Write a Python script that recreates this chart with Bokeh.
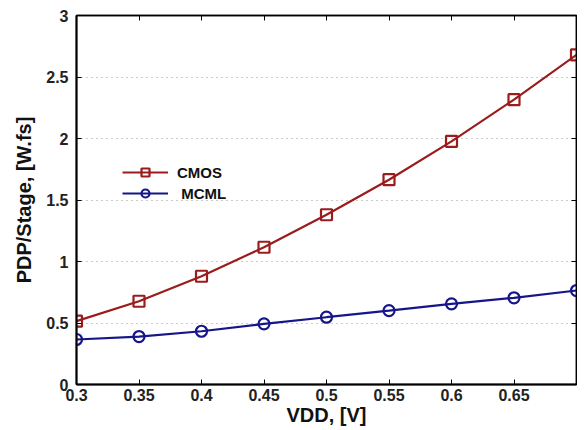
from bokeh.plotting import figure
from bokeh.models import FixedTicker, LinearAxis, Legend, LegendItem, Range1d
from bokeh.embed import file_html
from bokeh.resources import INLINE

vdd = [0.3, 0.35, 0.4, 0.45, 0.5, 0.55, 0.6, 0.65, 0.7]
cmos = [0.515, 0.677, 0.88, 1.116, 1.38, 1.665, 1.977, 2.316, 2.68]
mcml = [0.366, 0.39, 0.433, 0.493, 0.547, 0.60, 0.656, 0.705, 0.764]

x_ticks = [0.3, 0.35, 0.4, 0.45, 0.5, 0.55, 0.6, 0.65]
x_labels = ["0.3", "0.35", "0.4", "0.45", "0.5", "0.55", "0.6", "0.65"]
y_ticks = [0, 0.5, 1, 1.5, 2, 2.5, 3]
y_labels = ["0", "0.5", "1", "1.5", "2", "2.5", "3"]

red = "#9a1c1c"
blue = "#16168a"
FONT = "Liberation Sans"

p = figure(width=577, height=430, output_backend="svg", toolbar_location=None,
           x_range=Range1d(0.3, 0.7), y_range=Range1d(0, 3),
           min_border_left=76, min_border_right=1, min_border_top=15, min_border_bottom=46)
p.background_fill_color = "white"
p.outline_line_color = "black"
p.outline_line_width = 1.5

p.xgrid.visible = False
p.ygrid.grid_line_color = "#999999"
p.ygrid.grid_line_dash = "1 4"
p.ygrid.grid_line_width = 1

for ax, ticks, labels in ((p.xaxis[0], x_ticks, x_labels), (p.yaxis[0], y_ticks, y_labels)):
    ax.ticker = FixedTicker(ticks=ticks)
    ax.major_label_overrides = {t: l for t, l in zip(ticks, labels)}
    ax.minor_tick_line_color = None
    ax.major_tick_in = 5
    ax.major_tick_out = 0
    ax.axis_line_width = 2
    ax.major_tick_line_width = 1
    ax.major_label_text_font = FONT
    ax.major_label_text_font_style = "bold"
    ax.major_label_text_font_size = "16px"
    ax.major_label_text_color = "#222222"
    ax.axis_label_text_font = FONT
    ax.axis_label_text_font_style = "bold"
    ax.axis_label_text_font_size = "20px"
    ax.axis_label_text_color = "#111111"

p.xaxis.axis_label = "VDD, [V]"
p.yaxis.axis_label = "PDP/Stage, [W.fs]"
p.xaxis.major_label_standoff = 4
p.yaxis.major_label_standoff = 8
p.xaxis.axis_label_standoff = 0
p.yaxis.axis_label_standoff = 8

for loc, ticks in (("right", y_ticks), ("above", x_ticks)):
    ax = LinearAxis(ticker=FixedTicker(ticks=ticks))
    ax.major_label_overrides = {t: "" for t in ticks}
    ax.major_label_standoff = 0
    ax.minor_tick_line_color = None
    ax.major_tick_in = 5
    ax.major_tick_out = 0
    ax.axis_line_width = 1.5
    p.add_layout(ax, loc)

r1 = p.line(vdd, cmos, line_color=red, line_width=2.2)
s1 = p.scatter(vdd, cmos, marker="square", size=11, fill_color=None, line_color=red, line_width=2.2)
r2 = p.line(vdd, mcml, line_color=blue, line_width=2.2)
s2 = p.scatter(vdd, mcml, marker="circle", size=11, fill_color=None, line_color=blue, line_width=2.2)

legend = Legend(items=[LegendItem(label="CMOS", renderers=[r1, s1]),
                       LegendItem(label=" MCML", renderers=[r2, s2])],
                location=(46, 181))
legend.background_fill_alpha = 0
legend.border_line_color = None
legend.padding = 0
legend.margin = 0
legend.spacing = 1
legend.glyph_width = 46
legend.glyph_height = 20
legend.label_height = 20
legend.label_standoff = 9
legend.label_text_font = FONT
legend.label_text_font_style = "bold"
legend.label_text_font_size = "15px"
legend.label_text_color = "#111111"
p.add_layout(legend, "center")

open("out.html", "w").write(file_html(p, INLINE))
